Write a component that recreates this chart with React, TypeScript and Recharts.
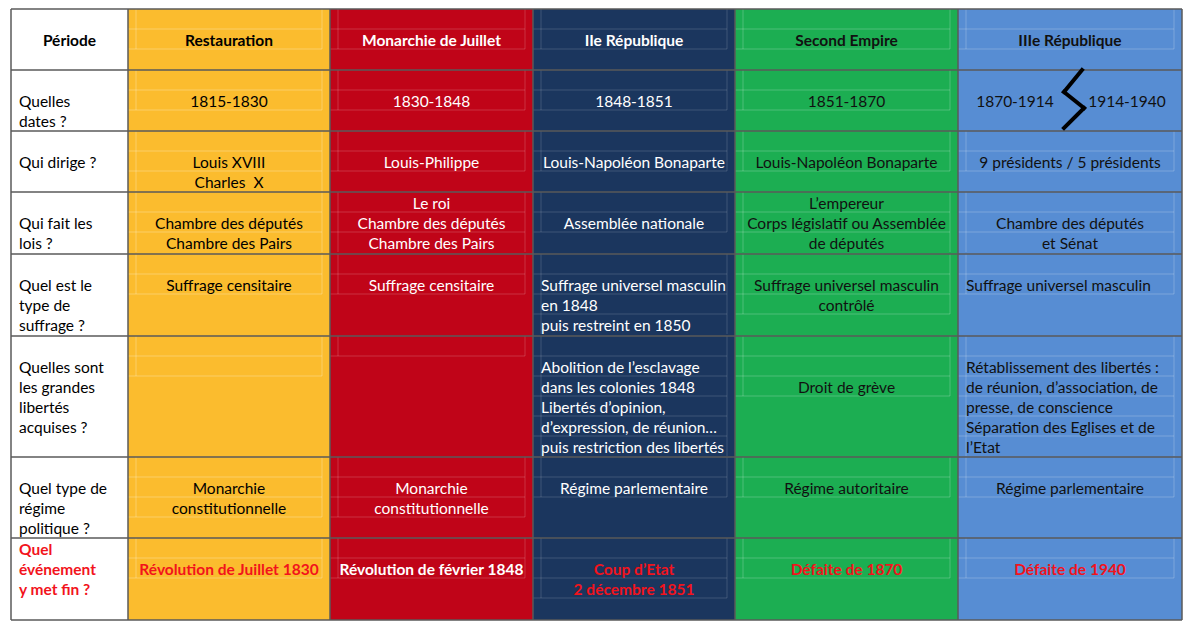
import React from "react";
import { ComposedChart, XAxis, YAxis, ReferenceArea, ReferenceLine } from "recharts";

// Tableau des régimes politiques (1815-1940), dessiné avec des zones de référence.
// 1 unité d'axe = 1 px, l'axe Y est inversé (0 en haut).

const FONT = "Lato, 'Open Sans', sans-serif";
const FONT_SIZE = 15.5;
const LINE_H = 20;

// ---- données ----
const HEADER_LABEL = "Période";

const QUESTIONS = [
  ["", "Quelles", "dates ?"],
  ["", "Qui dirige ?"],
  ["", "Qui fait les", "lois ?"],
  ["", "Quel est le", "type de", "suffrage ?"],
  ["", "Quelles sont", "les grandes", "libertés", "acquises ?"],
  ["", "Quel type de", "régime", "politique ?"],
  ["Quel", "événement", "y met fin ?"],
];

const PERIODS = ["Restauration", "Monarchie de Juillet", "IIe République", "Second Empire", "IIIe République"];

const RESTAURATION = [
  ["", "1815-1830"],
  ["", "Louis XVIII", "Charles  X"],
  ["", "Chambre des députés", "Chambre des Pairs"],
  ["", "Suffrage censitaire"],
  ["", ""],
  ["", "Monarchie", "constitutionnelle"],
  ["", "Révolution de Juillet 1830"],
];

const MONARCHIE_JUILLET = [
  ["", "1830-1848"],
  ["", "Louis-Philippe"],
  ["Le roi", "Chambre des députés", "Chambre des Pairs"],
  ["", "Suffrage censitaire"],
  [""],
  ["", "Monarchie", "constitutionnelle"],
  ["", "Révolution de février 1848"],
];

const IIE_REPUBLIQUE = [
  ["", "1848-1851"],
  ["", "Louis-Napoléon Bonaparte"],
  ["", "Assemblée nationale"],
  ["", "Suffrage universel masculin", "en 1848", "puis restreint en 1850"],
  ["", "Abolition de l’esclavage", "dans les colonies 1848", "Libertés d’opinion,", "d’expression, de réunion…", "puis restriction des libertés"],
  ["", "Régime parlementaire"],
  ["", "Coup d’Etat", "2 décembre 1851"],
];

const SECOND_EMPIRE = [
  ["", "1851-1870"],
  ["", "Louis-Napoléon Bonaparte"],
  ["L’empereur", "Corps législatif ou Assemblée", "de députés"],
  ["", "Suffrage universel masculin", "contrôlé"],
  ["", "", "Droit de grève"],
  ["", "Régime autoritaire"],
  ["", "Défaite de 1870"],
];

const IIIE_REPUBLIQUE = [
  null, // dates : voir IIIE_DATES
  ["", "9 présidents / 5 présidents"],
  ["", "Chambre des députés", "et Sénat"],
  ["", "Suffrage universel masculin"],
  ["", "Rétablissement des libertés :", "de réunion, d’association, de", "presse, de conscience", "Séparation des Eglises et de", "l’Etat"],
  ["", "Régime parlementaire"],
  ["", "Défaite de 1940"],
];

const IIIE_DATES = [["", "1870-1914"], ["", "1914-1940"]];

// cellules alignées à gauche : [colonne, ligne]
const LEFT_CELLS = [[3, 4], [3, 5], [5, 4], [5, 5]];

// ---- mise en page ----
const COL_WIDTHS = [117, 202, 203, 202, 223, 224];
const ROW_HEIGHTS = [61, 61, 61, 62, 82, 121, 81, 82];
const DATES_SPLIT = 114; // séparation des deux périodes de la IIIe République

const COL_BG = ["#FFFFFF", "#FBBC2E", "#C00418", "#1B365E", "#1CAE52", "#578DD3"];
const COL_FG = ["#000000", "#000000", "#FFFFFF", "#FFFFFF", "#111111", "#111111"];
const GUIDE = ["none", "rgba(255,255,255,0.28)", "rgba(255,255,255,0.18)", "rgba(255,255,255,0.16)", "rgba(255,255,255,0.22)", "rgba(255,255,255,0.22)"];
const RED = "#F2131C";
const BORDER = "#5A5A5A";

// zigzag entre 1870-1914 et 1914-1940
const ZIGZAG = [
  { x: 1071, y: 61 },
  { x: 1053, y: 83 },
  { x: 1073, y: 99 },
  { x: 1053, y: 119 },
];

const cumul = (arr: number[]) => arr.reduce<number[]>((acc, v) => [...acc, acc[acc.length - 1] + v], [0]);
const COL_EDGES = cumul(COL_WIDTHS);
const ROW_EDGES = cumul(ROW_HEIGHTS);
const TOTAL_W = COL_EDGES[COL_EDGES.length - 1];
const TOTAL_H = ROW_EDGES[ROW_EDGES.length - 1];

const COLUMNS = [RESTAURATION, MONARCHIE_JUILLET, IIE_REPUBLIQUE, SECOND_EMPIRE, IIIE_REPUBLIQUE];

function CellText({ viewBox, lines, align, color, bold, guide }: any) {
  if (!viewBox) return null;
  const { x, y, width, height } = viewBox;
  const left = align === "left";
  const tx = left ? x + 8 : x + width / 2;
  const n = lines.length;
  const bottom = Math.min(y + n * LINE_H, y + height);
  return (
    <g>
      {guide && guide !== "none" && n > 0 && (
        <g stroke={guide} strokeWidth={1}>
          {lines.map((_: string, i: number) =>
            y + (i + 1) * LINE_H < y + height - 2 ? (
              <line key={i} x1={x} x2={x + width - 8} y1={y + (i + 1) * LINE_H} y2={y + (i + 1) * LINE_H} />
            ) : null
          )}
          <line x1={x + 8} x2={x + 8} y1={y} y2={bottom} />
          <line x1={x + width - 8} x2={x + width - 8} y1={y} y2={bottom} />
        </g>
      )}
      {lines.map((t: string, i: number) =>
        t ? (
          <text
            key={i}
            x={tx}
            y={y + 11 + LINE_H * i}
            textAnchor={left ? "start" : "middle"}
            dominantBaseline="central"
            fill={color}
            fontWeight={bold ? 700 : 400}
            fontSize={FONT_SIZE}
            fontFamily={FONT}
            style={{ whiteSpace: "pre" }}
          >
            {t}
          </text>
        ) : null
      )}
    </g>
  );
}

function isLeft(c: number, r: number) {
  return LEFT_CELLS.some(([lc, lr]) => lc === c && lr === r);
}

export default function App() {
  const cells: React.ReactNode[] = [];

  // en-têtes
  cells.push(
    <ReferenceArea
      key="h0"
      x1={COL_EDGES[0]} x2={COL_EDGES[1]} y1={ROW_EDGES[0]} y2={ROW_EDGES[1]}
      fill="none" stroke="none"
      label={<CellText lines={["", HEADER_LABEL]} color={COL_FG[0]} bold />}
    />
  );
  PERIODS.forEach((p, i) => {
    const c = i + 1;
    cells.push(
      <ReferenceArea
        key={`h${c}`}
        x1={COL_EDGES[c]} x2={COL_EDGES[c + 1]} y1={ROW_EDGES[0]} y2={ROW_EDGES[1]}
        fill="none" stroke="none"
        label={<CellText lines={["", p]} color={COL_FG[c]} bold guide={GUIDE[c]} />}
      />
    );
  });

  // questions
  QUESTIONS.forEach((q, r) => {
    const last = r === QUESTIONS.length - 1;
    cells.push(
      <ReferenceArea
        key={`q${r}`}
        x1={COL_EDGES[0]} x2={COL_EDGES[1]} y1={ROW_EDGES[r + 1]} y2={ROW_EDGES[r + 2]}
        fill="none" stroke="none"
        label={<CellText lines={q} align="left" color={last ? RED : COL_FG[0]} bold={last} />}
      />
    );
  });

  // contenu
  COLUMNS.forEach((col, i) => {
    const c = i + 1;
    col.forEach((lines, r) => {
      const last = r === col.length - 1;
      const color = last ? (c === 2 ? "#FFFFFF" : RED) : COL_FG[c];
      if (!lines) {
        // dates de la IIIe République, en deux parties
        const split = COL_EDGES[c] + DATES_SPLIT;
        [[COL_EDGES[c], split], [split, COL_EDGES[c + 1]]].forEach(([a, b], k) => {
          cells.push(
            <ReferenceArea
              key={`d${k}`}
              x1={a} x2={b} y1={ROW_EDGES[r + 1]} y2={ROW_EDGES[r + 2]}
              fill="none" stroke="none"
              label={<CellText lines={IIIE_DATES[k]} color={color} />}
            />
          );
        });
        return;
      }
      cells.push(
        <ReferenceArea
          key={`c${c}-${r}`}
          x1={COL_EDGES[c]} x2={COL_EDGES[c + 1]} y1={ROW_EDGES[r + 1]} y2={ROW_EDGES[r + 2]}
          fill="none" stroke="none"
          label={
            <CellText
              lines={lines}
              align={isLeft(c, r + 1) ? "left" : "center"}
              color={color}
              bold={last}
              guide={GUIDE[c]}
            />
          }
        />
      );
    });
  });

  const frame = [
    { x: 0, y: 0 },
    { x: TOTAL_W, y: TOTAL_H },
  ];

  return (
    <div style={{ position: "absolute", left: 0, top: 0, background: "#fff" }}>
      <ComposedChart
        width={1192}
        height={630}
        data={frame}
        margin={{ top: 9, right: 10, bottom: 10, left: 11 }}
      >
        <XAxis type="number" dataKey="x" domain={[0, TOTAL_W]} hide allowDataOverflow />
        <YAxis type="number" dataKey="y" domain={[0, TOTAL_H]} reversed hide allowDataOverflow />

        {COL_BG.map((bg, c) => (
          <ReferenceArea
            key={`bg${c}`}
            x1={COL_EDGES[c]} x2={COL_EDGES[c + 1]} y1={0} y2={TOTAL_H}
            fill={bg} fillOpacity={1} stroke="none"
          />
        ))}

        {cells}

        {ROW_EDGES.map((y, i) => (
          <ReferenceLine key={`r${i}`} y={y} stroke={BORDER} strokeWidth={1.5} />
        ))}
        {COL_EDGES.map((x, i) => (
          <ReferenceLine key={`v${i}`} x={x} stroke={BORDER} strokeWidth={1.5} />
        ))}

        {ZIGZAG.slice(1).map((p, i) => (
          <ReferenceLine
            key={`z${i}`}
            segment={[ZIGZAG[i], p]}
            stroke="#000"
            strokeWidth={4}
            strokeLinecap="square"
          />
        ))}
      </ComposedChart>
    </div>
  );
}
